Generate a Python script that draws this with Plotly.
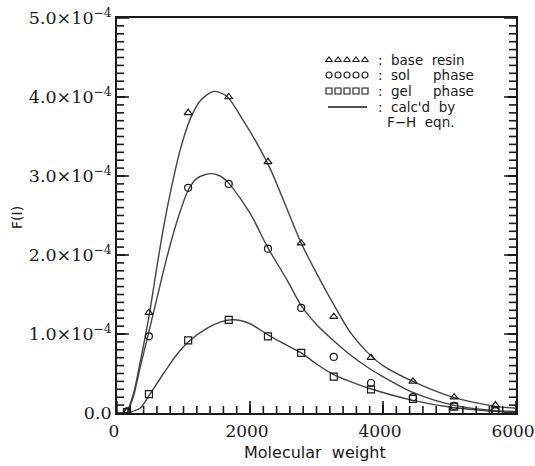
import plotly.graph_objects as go

# ---------------- data ----------------
mw_pts = [150, 480, 1070, 1680, 2270, 2770, 3260, 3820, 4450, 5070, 5690]
base_pts = [0.02e-4, 1.27e-4, 3.80e-4, 4.00e-4, 3.18e-4, 2.15e-4, 1.22e-4, 0.70e-4, 0.40e-4, 0.20e-4, 0.10e-4]
sol_pts = [0.02e-4, 0.97e-4, 2.85e-4, 2.90e-4, 2.08e-4, 1.33e-4, 0.71e-4, 0.38e-4, 0.20e-4, 0.09e-4, 0.03e-4]
gel_pts = [0.01e-4, 0.24e-4, 0.92e-4, 1.18e-4, 0.97e-4, 0.76e-4, 0.46e-4, 0.30e-4, 0.18e-4, 0.08e-4, 0.02e-4]

base_cx = [150, 250, 350, 480, 600, 700, 800, 950, 1100, 1250, 1450, 1650, 1900, 2100, 2300, 2500, 2770, 3000, 3160, 3350, 3500, 3750, 4000, 4450, 5050, 5650, 6000]
base_cy = [0.0, 0.25, 0.65, 1.22, 1.85, 2.35, 2.78, 3.33, 3.72, 3.95, 4.07, 4.01, 3.70, 3.42, 3.10, 2.70, 2.15, 1.77, 1.52, 1.24, 1.03, 0.78, 0.60, 0.40, 0.20, 0.09, 0.06]

sol_cx = [160, 260, 360, 480, 600, 750, 900, 1070, 1200, 1400, 1550, 1680, 2000, 2270, 2560, 2770, 3000, 3250, 3500, 3800, 4000, 4450, 5050, 5700, 6000]
sol_cy = [0.0, 0.25, 0.62, 1.03, 1.45, 1.97, 2.42, 2.82, 2.97, 3.03, 3.00, 2.91, 2.53, 2.09, 1.68, 1.36, 1.12, 0.92, 0.74, 0.56, 0.46, 0.26, 0.10, 0.03, 0.02]

gel_cx = [140, 346, 480, 700, 900, 1070, 1350, 1550, 1750, 2000, 2270, 2500, 2770, 3000, 3250, 3500, 3800, 4450, 5050, 5700, 6000]
gel_cy = [0.0, 0.06, 0.22, 0.50, 0.74, 0.90, 1.07, 1.15, 1.18, 1.13, 0.99, 0.88, 0.76, 0.62, 0.49, 0.40, 0.31, 0.16, 0.07, 0.02, 0.01]

y_tickvals = [0, 1e-4, 2e-4, 3e-4, 4e-4, 5e-4]
y_ticktext = ["0.0", "1.0×10<sup>−4</sup>", "2.0×10<sup>−4</sup>", "3.0×10<sup>−4</sup>",
              "4.0×10<sup>−4</sup>", "5.0×10<sup>−4</sup>"]
x_tickvals = [0, 2000, 4000, 6000]
x_ticktext = ["0", "2000", "4000", "6000"]
x_minor_vals = [v for v in range(200, 6000, 200) if v % 2000 != 0]
y_minor_vals = [k * 1e-5 for k in range(1, 50) if k % 10 != 0]

legend_labels = ["base  resin", "sol", "gel", "calc'd  by", "F−H  eqn."]

# ---------------- styling ----------------
W, H = 535, 466
L, R, T, B = 117, 19, 18, 53
PW, PH = W - L - R, H - T - B
INK = "#1a1a1a"
LINE = "#444444"
X_MIN, X_MAX = 0, 6000
Y_MIN, Y_MAX = 0, 5e-4


def px(xp):
    return (xp - L) / PW


def py(yp):
    return (H - B - yp) / PH


fig = go.Figure()

for cx, cy in [(base_cx, base_cy), (sol_cx, sol_cy), (gel_cx, gel_cy)]:
    fig.add_trace(go.Scatter(x=cx, y=[v * 1e-4 for v in cy], mode="lines",
                             line=dict(color=LINE, width=1.4, shape="spline", smoothing=0.8),
                             hoverinfo="skip"))

for vals, sym in [(base_pts, "triangle-up-open"), (sol_pts, "circle-open"), (gel_pts, "square-open")]:
    fig.add_trace(go.Scatter(x=mw_pts, y=vals, mode="markers",
                             marker=dict(symbol=sym, size=7, color=INK, line=dict(width=1.2, color=INK))))

# inside tick marks: line markers centred on the axis lines, clipped by the plot area
tick_style = dict(color=INK, line=dict(width=1.6, color=INK))
fig.add_trace(go.Scatter(x=x_minor_vals, y=[Y_MIN] * len(x_minor_vals), mode="markers", hoverinfo="skip",
                         marker=dict(symbol="line-ns-open", size=10, **tick_style)))
fig.add_trace(go.Scatter(x=x_tickvals, y=[Y_MIN] * len(x_tickvals), mode="markers", hoverinfo="skip",
                         marker=dict(symbol="line-ns-open", size=17, **tick_style)))
for xe in (X_MIN, X_MAX):
    fig.add_trace(go.Scatter(x=[xe] * len(y_minor_vals), y=y_minor_vals, mode="markers", hoverinfo="skip",
                             marker=dict(symbol="line-ew-open", size=10, **tick_style)))
    fig.add_trace(go.Scatter(x=[xe] * len(y_tickvals), y=y_tickvals, mode="markers", hoverinfo="skip",
                             marker=dict(symbol="line-ew-open", size=17, **tick_style)))

# legend sample markers on an overlay axis in pixel-fraction coordinates
leg_rows = [60, 75, 91, 107, 122]
for row, sym in zip(leg_rows[:3], ["triangle-up-open", "circle-open", "square-open"]):
    fig.add_trace(go.Scatter(x=[px(329 + 9 * i) for i in range(5)], y=[py(row)] * 5,
                             xaxis="x2", yaxis="y2", mode="markers",
                             marker=dict(symbol=sym, size=6, color=INK, line=dict(width=1.1, color=INK)),
                             hoverinfo="skip"))

fig.add_shape(type="line", xref="paper", yref="paper", x0=px(328), x1=px(367),
              y0=py(leg_rows[3]), y1=py(leg_rows[3]), line=dict(color=INK, width=1.4))

sans = dict(family="DejaVu Sans", size=13.5, color=INK)
for i, row in enumerate(leg_rows[:4]):
    fig.add_annotation(xref="paper", yref="paper", x=px(380), y=py(row), text=":",
                       showarrow=False, xanchor="center", yanchor="middle", font=sans)
for i, row in enumerate(leg_rows):
    x0 = 385 if i == 4 else 389
    fig.add_annotation(xref="paper", yref="paper", x=px(x0), y=py(row), text=legend_labels[i],
                       showarrow=False, xanchor="left", yanchor="middle", font=sans)
for row in leg_rows[1:3]:
    fig.add_annotation(xref="paper", yref="paper", x=px(431), y=py(row), text="phase",
                       showarrow=False, xanchor="left", yanchor="middle", font=sans)

# axis titles
fig.add_annotation(xref="paper", yref="paper", x=px(315), y=py(452), text="Molecular  weight",
                   showarrow=False, xanchor="center", yanchor="middle",
                   font=dict(family="DejaVu Sans", size=16, color=INK))
fig.add_annotation(xref="paper", yref="paper", x=px(17), y=py(218), text="F(I)", textangle=-90,
                   showarrow=False, xanchor="center", yanchor="middle",
                   font=dict(family="DejaVu Sans", size=14, color=INK))

serif = dict(family="DejaVu Serif", size=17.5, color=INK)
fig.update_layout(
    width=W, height=H, margin=dict(l=L, r=R, t=T, b=B, autoexpand=False),
    paper_bgcolor="white", plot_bgcolor="white", showlegend=False,
    xaxis=dict(range=[X_MIN, X_MAX], tickmode="array", tickvals=x_tickvals, ticktext=x_ticktext,
               ticks="inside", ticklen=8, tickwidth=1.6, tickcolor=INK,
               showline=True, linecolor=INK, linewidth=1.8, mirror=True, automargin=False,
               showgrid=False, zeroline=False, tickfont=dict(family="DejaVu Serif", size=17, color=INK),
               ticklabeloverflow="allow", ticklabelshift=-3, ticklabelstandoff=2),
    yaxis=dict(range=[Y_MIN, Y_MAX], tickmode="array", tickvals=y_tickvals, ticktext=y_ticktext,
               ticks="inside", ticklen=8, tickwidth=1.6, tickcolor=INK,
               showline=True, linecolor=INK, linewidth=1.8, mirror="ticks", automargin=False,
               showgrid=False, zeroline=False, tickfont=serif, ticklabeloverflow="allow"),
    xaxis2=dict(range=[0, 1], overlaying="x", visible=False, fixedrange=True, automargin=False),
    yaxis2=dict(range=[0, 1], overlaying="y", visible=False, fixedrange=True, automargin=False),
)

fig.write_html("out.html")
